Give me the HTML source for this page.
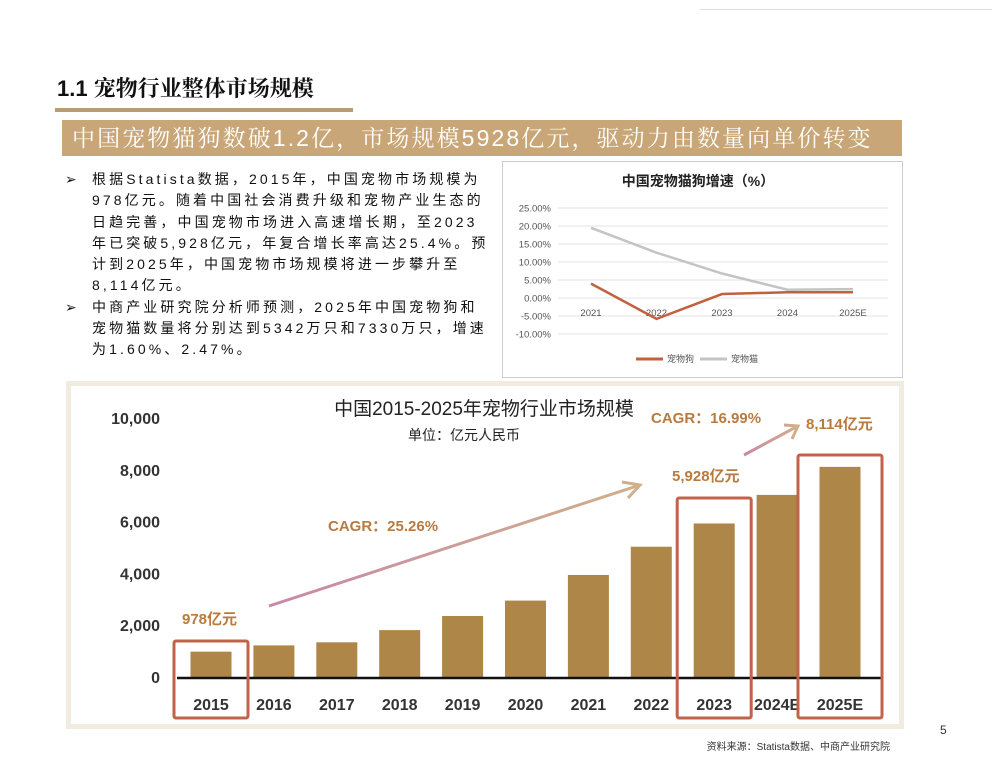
<!DOCTYPE html>
<html><head><meta charset="utf-8"><style>
body{margin:0;background:#fff;font-family:"Liberation Sans","Noto Sans CJK SC",sans-serif;}
#page{position:relative;width:992px;height:768px;overflow:hidden;background:#fff;}
.abs{position:absolute;}
#body-text{left:62px;top:169px;width:450px;font-size:14px;line-height:21.3px;color:#111;white-space:nowrap;letter-spacing:3.1px;}
#body-text p{margin:0;padding-left:30px;position:relative;}
#body-text p span.b{position:absolute;left:3px;top:0;}
</style></head><body>
<div id="page">
<div class="abs" style="left:700px;top:9px;width:292px;height:1px;background:#ddd"></div>
<div class="abs" style="left:57px;top:72px;font-size:22px;font-weight:bold;color:#111;font-family:'Liberation Sans','Noto Serif CJK SC',serif">1.1 宠物行业整体市场规模</div>
<div class="abs" style="left:55px;top:108px;width:298px;height:4px;background:#b89c74"></div>
<div class="abs" style="left:62px;top:120px;width:840px;height:36px;background:#c8a677;color:#fff;font-size:23px;line-height:36px;padding-left:10px;box-sizing:border-box;white-space:nowrap;letter-spacing:2.1px;font-family:'Liberation Sans','Noto Serif CJK SC',serif">中国宠物猫狗数破1.2亿，市场规模5928亿元，驱动力由数量向单价转变</div>
<div id="body-text" class="abs">
<p><span class="b">➢</span>根据Statista数据，2015年，中国宠物市场规模为<br>978亿元。随着中国社会消费升级和宠物产业生态的<br>日趋完善，中国宠物市场进入高速增长期，至2023<br>年已突破5,928亿元，年复合增长率高达25.4%。预<br>计到2025年，中国宠物市场规模将进一步攀升至<br>8,114亿元。</p>
<p><span class="b">➢</span>中商产业研究院分析师预测，2025年中国宠物狗和<br>宠物猫数量将分别达到5342万只和7330万只，增速<br>为1.60%、2.47%。</p>
</div>
<svg class="abs" style="left:0;top:0" width="992" height="768" id="charts">
<rect x="502.5" y="161.5" width="400" height="216" fill="#fff" stroke="#ccc"/>
<text x="698" y="186" text-anchor="middle" font-size="14" font-weight="bold" fill="#222">中国宠物猫狗增速（%）</text>
<g id="g1"></g>
<rect x="68.5" y="383.5" width="833" height="343" fill="#fff" stroke="#f1ebe0" stroke-width="5"/>
<text x="484" y="415" text-anchor="middle" font-size="19" fill="#222">中国2015-2025年宠物行业市场规模</text>
<text x="464" y="440" text-anchor="middle" font-size="14" fill="#222">单位：亿元人民币</text>
<g id="g2"></g>
<text x="940" y="734" font-size="12" fill="#333">5</text>
<text x="890" y="750" text-anchor="end" font-size="10" fill="#333">资料来源：Statista数据、中商产业研究院</text>
</svg>
</div>
<script>
const lineCats=["2021","2022","2023","2024","2025E"];
const dogGrowth=[4.0,-5.8,1.1,1.6,1.6];
const catGrowth=[19.5,12.6,6.8,2.3,2.47];
const pctTicks=[25,20,15,10,5,0,-5,-10];
const barCats=["2015","2016","2017","2018","2019","2020","2021","2022","2023","2024E","2025E"];
const marketSize=[978,1220,1340,1810,2355,2950,3940,5030,5928,7030,8114];
const valTicks=[0,2000,4000,6000,8000,10000];
const NS="http://www.w3.org/2000/svg";
function mk(p,t,a){const e=document.createElementNS(NS,t);for(const k in a)e.setAttribute(k,a[k]);p.appendChild(e);return e;}
const g1=document.getElementById('g1');
const ly=v=>298-v*3.6, lx=i=>591+i*65.5;
pctTicks.forEach(t=>{
 const l=mk(g1,'line',{x1:558,x2:888,y1:ly(t),y2:ly(t),stroke:'#e3e3e3'});
 
 
 const tx=mk(g1,'text',{x:551,y:ly(t)+3.5,'text-anchor':'end','font-size':9.5,fill:'#555'});
 tx.textContent=t.toFixed(2)+'%';
 
 
});
lineCats.forEach((c,i)=>{
 const tx=mk(g1,'text',{x:lx(i),y:316,'text-anchor':'middle','font-size':9.5,fill:'#555'});
 tx.textContent=c;
 
 
});
const cp=mk(g1,'polyline',{points:catGrowth.map((v,i)=>lx(i)+','+ly(v)).join(' '),fill:'none',stroke:'#c4c4c4','stroke-width':2.5});


const dp=mk(g1,'polyline',{points:dogGrowth.map((v,i)=>lx(i)+','+ly(v)).join(' '),fill:'none',stroke:'#c0613f','stroke-width':2.5});


[['#c0613f','宠物狗',636],['#c4c4c4','宠物猫',700]].forEach(([col,lab,x])=>{
 const l=mk(g1,'line',{x1:x,x2:x+27,y1:359,y2:359,stroke:col,'stroke-width':3});
 
 
 const t=mk(g1,'text',{x:x+31,y:362,'font-size':9,fill:'#555'});t.textContent=lab;
 
 
});
const g2=document.getElementById('g2');
const by=v=>677-v*0.0259, bx=i=>211+i*62.9;
valTicks.forEach(t=>{
 const tx=mk(g2,'text',{x:160,y:by(t)+6,'text-anchor':'end','font-size':16,'font-weight':'bold',fill:'#333'});
 tx.textContent=t.toLocaleString('en-US');
 
 
});
marketSize.forEach((v,i)=>{
 const r=mk(g2,'rect',{x:bx(i)-20.5,y:by(v),width:41,height:677-by(v),fill:'#ae8647'});
 
 
 const tx=mk(g2,'text',{x:bx(i),y:710,'text-anchor':'middle','font-size':16,'font-weight':'bold',fill:'#333'});
 tx.textContent=barCats[i];
 
 
});
const ax=mk(g2,'line',{x1:177,x2:882,y1:678,y2:678,stroke:'#111','stroke-width':2.5});


[[0,'highlight-2015'],[8,'highlight-2023'],[10,'highlight-2025']].forEach(([i,n])=>{
 const top=i==0?641:(i==8?498:455), w=i==10?84:74;
 const r=mk(g2,'rect',{x:bx(i)-w/2,y:top,width:w,height:718-top,fill:'none',stroke:'#c0634a','stroke-width':3,rx:2});
 
 
});
const defs=mk(g2,'defs',{});
const gr=mk(defs,'linearGradient',{id:'ag',x1:0,x2:1,y1:0,y2:0});
mk(gr,'stop',{offset:0,'stop-color':'#c888a8'});mk(gr,'stop',{offset:1,'stop-color':'#d1b08a'});
const a1=mk(g2,'path',{d:'M269,606 L640,485 M622,482 L640,485 L628,498',fill:'none',stroke:'url(#ag)','stroke-width':3});


const a2=mk(g2,'path',{d:'M744,455 L798,426 M784,425 L798,426 L792,439',fill:'none',stroke:'url(#ag)','stroke-width':3});


[['978亿元',182,624,'label-978'],['CAGR：25.26%',328,531,'cagr-label-1'],['5,928亿元',672,481,'label-5928'],['CAGR：16.99%',651,423,'cagr-label-2'],['8,114亿元',806,429,'label-8114']].forEach(([s,x,y,n])=>{
 const t=mk(g2,'text',{x:x,y:y,'font-size':15,'font-weight':'bold',fill:'#b97a3d'});t.textContent=s;
 
 
});
</script>
</body></html>
